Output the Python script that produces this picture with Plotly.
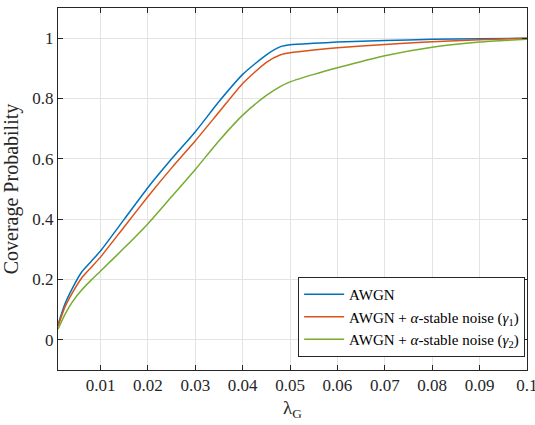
import plotly.graph_objects as go

lam = [0.001, 0.0025, 0.004, 0.006, 0.008, 0.01, 0.015, 0.02, 0.025, 0.03, 0.035,
       0.04, 0.045, 0.048, 0.05, 0.055, 0.06, 0.07, 0.08, 0.09, 0.1]
awgn = [0.05, 0.12, 0.17, 0.225, 0.26, 0.295, 0.40, 0.505, 0.60, 0.69, 0.79,
        0.88, 0.945, 0.972, 0.978, 0.983, 0.987, 0.992, 0.996, 0.998, 1.0]
gamma1 = [0.045, 0.11, 0.155, 0.205, 0.24, 0.275, 0.375, 0.475, 0.57, 0.66, 0.755,
          0.85, 0.92, 0.945, 0.952, 0.961, 0.968, 0.979, 0.988, 0.995, 1.0]
gamma2 = [0.035, 0.085, 0.125, 0.165, 0.198, 0.228, 0.305, 0.385, 0.475, 0.565, 0.66,
          0.745, 0.81, 0.84, 0.855, 0.88, 0.902, 0.942, 0.97, 0.987, 0.996]

names = ["AWGN",
         "AWGN + <i>α</i>-stable noise (<i>γ</i><sub>1</sub>)",
         "AWGN + <i>α</i>-stable noise (<i>γ</i><sub>2</sub>)"]
colors = ["#0072BD", "#D95319", "#77AC30"]

xticks = [0.01, 0.02, 0.03, 0.04, 0.05, 0.06, 0.07, 0.08, 0.09, 0.1]
xticklabels = ["0.01", "0.02", "0.03", "0.04", "0.05", "0.06", "0.07", "0.08", "0.09", "0.1"]
yticks = [0, 0.2, 0.4, 0.6, 0.8, 1]
yticklabels = ["0", "0.2", "0.4", "0.6", "0.8", "1"]

fig = go.Figure()
for ys, nm, c in zip([awgn, gamma1, gamma2], names, colors):
    fig.add_trace(go.Scatter(x=lam, y=ys, mode="lines", name=nm,
                             line=dict(color=c, width=1.5, shape="spline", smoothing=0.6)))

font = "Liberation Serif"
axcommon = dict(showline=True, linecolor="#262626", linewidth=1, mirror="ticks",
                ticks="inside", ticklen=5, tickcolor="#262626",
                showgrid=True, gridcolor="#e3e3e3", gridwidth=1, zeroline=False,
                automargin=False, ticklabeloverflow="allow",
                tickfont=dict(family=font, size=17, color="#262626"))
fig.update_layout(
    width=535, height=425,
    margin=dict(l=58, r=8, t=8, b=55),
    paper_bgcolor="white", plot_bgcolor="white",
    font=dict(family=font, size=17, color="#262626"),
    xaxis=dict(range=[0.001, 0.10002], tickvals=xticks, ticktext=xticklabels,
               title=dict(text="λ<sub>G</sub>", font=dict(family=font, size=19), standoff=6),
               **axcommon),
    yaxis=dict(range=[-0.1, 1.1], tickvals=yticks, ticktext=yticklabels,
               title=dict(text="Coverage Probability", font=dict(family=font, size=20), standoff=8),
               **axcommon),
    legend=dict(x=0.996, y=0.036, xanchor="right", yanchor="bottom",
                bgcolor="white", bordercolor="#262626", borderwidth=1,
                font=dict(family=font, size=15, color="black"),
                tracegroupgap=0, itemwidth=40),
    showlegend=True,
)
fig.write_html("out.html", config={"displayModeBar": False},
               post_script="document.body.style.margin='0';document.body.style.padding='0';")
